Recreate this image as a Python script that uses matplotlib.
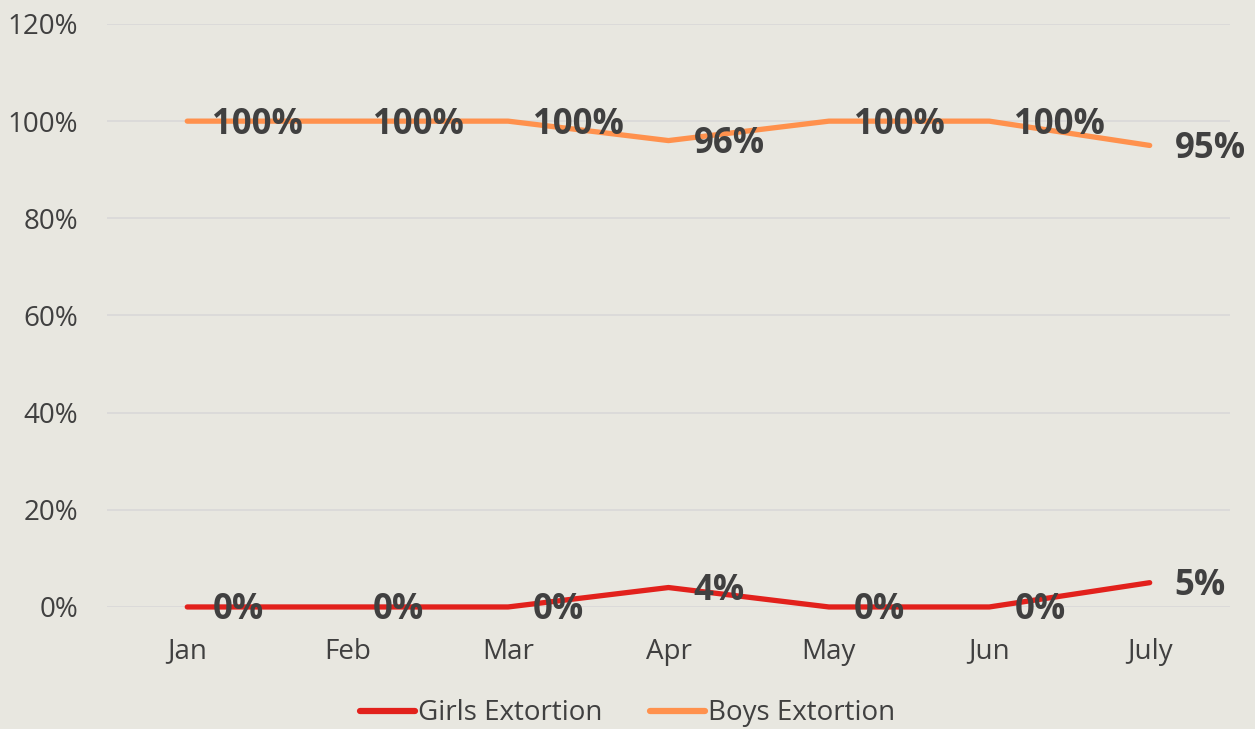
import matplotlib
matplotlib.use("Agg")
import matplotlib.pyplot as plt
from matplotlib.ticker import FuncFormatter, MultipleLocator

months = ["Jan", "Feb", "Mar", "Apr", "May", "Jun", "July"]
girls = [0, 0, 0, 4, 0, 0, 5]
boys = [100, 100, 100, 96, 100, 100, 95]

bg = "#E8E7E0"
txt = "#404040"
c_girls = "#E2211C"
c_boys = "#FF914D"

plt.rcParams['font.family'] = ['Open Sans', 'DejaVu Sans']

fig = plt.figure(figsize=(12.55, 7.29), dpi=100, facecolor=bg)
ax = fig.add_axes([0.0853, 0.1674, 0.8947, 0.7997], facecolor=bg)

x = list(range(len(months)))
ax.plot(x, girls, color=c_girls, lw=3.8, solid_capstyle='round', solid_joinstyle='round',
        label="Girls Extortion", zorder=3, clip_on=False)
ax.plot(x, boys, color=c_boys, lw=3.8, solid_capstyle='round', solid_joinstyle='round',
        label="Boys Extortion", zorder=3, clip_on=False)

for xs, ys in ((x, girls), (x, boys)):
    for xi, yi in zip(xs, ys):
        ax.annotate(f"{yi}%", (xi, yi), xytext=(18, -2.5), textcoords='offset points',
                    ha='left', va='center', fontsize=25, fontweight='bold', color=txt, zorder=4)

ax.set_xlim(-0.5, len(months) - 0.5)
ax.set_ylim(0, 120)
ax.yaxis.set_major_locator(MultipleLocator(20))
ax.yaxis.set_major_formatter(FuncFormatter(lambda v, p: f"{int(v)}%"))
ax.set_xticks(x)
ax.set_xticklabels(months)
ax.grid(axis='y', color='#D9D8D8', lw=1.2, zorder=1)
for s in ax.spines.values():
    s.set_visible(False)
ax.tick_params(axis='both', length=0, labelsize=20, colors=txt)
ax.tick_params(axis='y', pad=21)
ax.tick_params(axis='x', pad=22)

leg = fig.legend(loc='lower center', bbox_to_anchor=(0.5, -0.032), ncol=2, frameon=False,
                 fontsize=20, handlelength=2.0, handletextpad=0.1, columnspacing=1.7)
for t in leg.get_texts():
    t.set_color(txt)
for h in leg.get_lines():
    h.set_linewidth(4.5)
    h.set_solid_capstyle('round')

fig.savefig("out.png", dpi=100, facecolor=bg)
